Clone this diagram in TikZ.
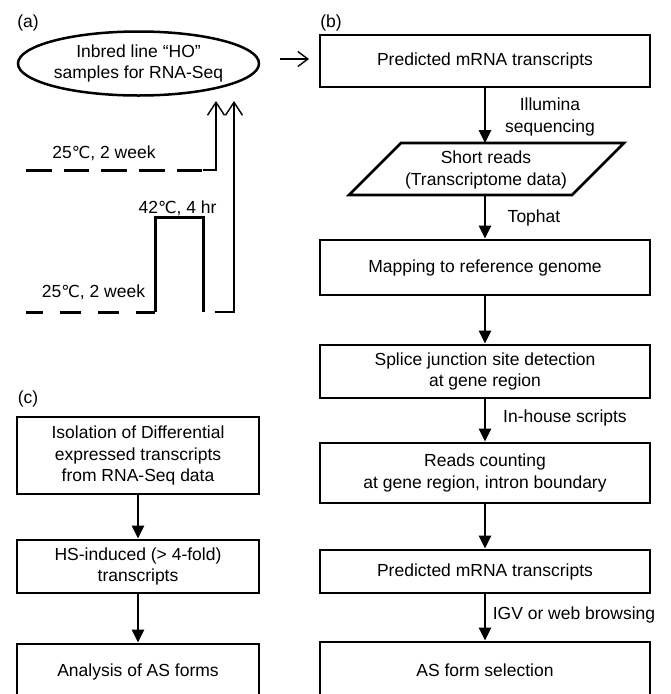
\documentclass[tikz,border=0pt]{standalone}
\usepackage{fontspec}
\setmainfont{Liberation Sans}
\newfontfamily\dejavu{DejaVu Sans}
\newcommand{\degc}{{\dejavu\fontsize{16.5}{21.5}\selectfont ℃}}
\usetikzlibrary{arrows.meta,shapes.geometric,calc}
\begin{document}
\begin{tikzpicture}[x=1pt,y=-1pt,
  font=\fontsize{17.5}{21.5}\selectfont,
  box/.style={draw,line width=2.8pt,align=center,inner sep=0pt},
  bbox/.style={box,minimum width=330pt},
  cbox/.style={box,minimum width=242pt},
  lbl/.style={align=center,inner sep=0pt},
  flow/.style={line width=2.8pt,-{Triangle[width=12pt,length=13pt]}},
  thinline/.style={line width=1.4pt},
  uparrow/.style={thinline,-{Straight Barb[width=17pt,length=13pt,line width=1.4pt]}},
  temp/.style={line width=3pt}
]
\useasboundingbox (0,0) rectangle (671,694);
\clip (0,0) rectangle (671,694);

% panel labels
\node[lbl] (la) at (28,23) {(a)};
\node[lbl] (lb) at (331,23) {(b)};
\node[lbl] (lc) at (28,399) {(c)};

% (a)
\node[draw,ellipse,line width=2.5pt,minimum width=241pt,minimum height=64pt,inner sep=0pt,align=center] (e) at (138.5,63.5) {Inbred line “HO”\\samples for RNA-Seq};
\coordinate (r1) at (280,59);
\coordinate (r2) at (309,59);
\draw[thinline,-{Straight Barb[width=15pt,length=10pt,line width=1.4pt]}] (r1) -- (r2);

\node[lbl] (t25a) at (104,153) {25\degc, 2 week};
\node[lbl] (t42) at (177.5,208) {42\degc, 4 hr};
\node[lbl] (t25b) at (93.5,292) {25\degc, 2 week};

\coordinate (d1s) at (26,170);
\coordinate (d1e) at (203,170);
\coordinate (u1) at (216,170);
\coordinate (u1t) at (216,101);
\draw[temp,dash pattern=on 25.5pt off 12.2pt] (d1s) -- (d1e);
\draw[uparrow] (d1e) -- (u1) -- (u1t);

\coordinate (d2s) at (26,312);
\coordinate (d2e) at (155,312);
\coordinate (h1) at (155,217);
\coordinate (h2) at (203,217);
\coordinate (h3) at (203,312);
\draw[temp,dash pattern=on 21pt off 17pt,dash phase=4pt] (d2s) -- (d2e);
\draw[temp] (d2e) -- (h1) -- (h2) -- (h3);
\coordinate (g1) at (215,312);
\coordinate (g2) at (234,312);
\coordinate (g2t) at (234,101);
\draw[uparrow] (g1) -- (g2) -- (g2t);

% (b)
\node[bbox,minimum height=52pt] (b1) at (485,61) {Predicted mRNA transcripts};
\node[lbl] (b2) at (486,170) {Short reads\\(Transcriptome data)};
\draw[line width=2.8pt] ($(b2)+(-137,25)$) -- ($(b2)+(-85,-27)$) -- ($(b2)+(138,-27)$) -- ($(b2)+(86,25)$) -- cycle;
\coordinate (b2n) at (485,143);
\coordinate (b2s) at (485,195);
\node[bbox,minimum height=55pt] (b3) at (485,267.5) {Mapping to reference genome};
\node[bbox,minimum height=53pt] (b4) at (485,371.5) {Splice junction site detection\\at gene region};
\node[bbox,minimum height=60pt] (b5) at (485,473) {Reads counting\\at gene region, intron boundary};
\node[bbox,minimum height=43pt] (b6) at (485,571.5) {Predicted mRNA transcripts};
\node[bbox,minimum height=56pt] (b7) at (485,670) {AS form selection};

\draw[flow] (b1) -- (b2n);
\draw[flow] (b2s) -- (b3);
\draw[flow] (b3) -- (b4);
\draw[flow] (b4) -- (b5);
\draw[flow] (b5) -- (b6);
\draw[flow] (b6) -- (b7);

\node[lbl] (t1) at (550,117) {Illumina\\sequencing};
\node[lbl] (t2) at (534,218) {Tophat};
\node[lbl] (t3) at (565,418) {In-house scripts};
\node[lbl] (t4) at (574,615) {IGV or web browsing};

% (c)
\node[cbox,minimum height=77pt] (c1) at (138,455.5) {Isolation of Differential\\expressed transcripts\\from RNA-Seq data};
\node[cbox,minimum height=53pt] (c2) at (138,566.5) {HS-induced (> 4-fold)\\transcripts};
\node[cbox,minimum height=56pt] (c3) at (138,672) {Analysis of AS forms};
\draw[flow] (c1) -- (c2);
\draw[flow] (c2) -- (c3);
\end{tikzpicture}
\end{document}
